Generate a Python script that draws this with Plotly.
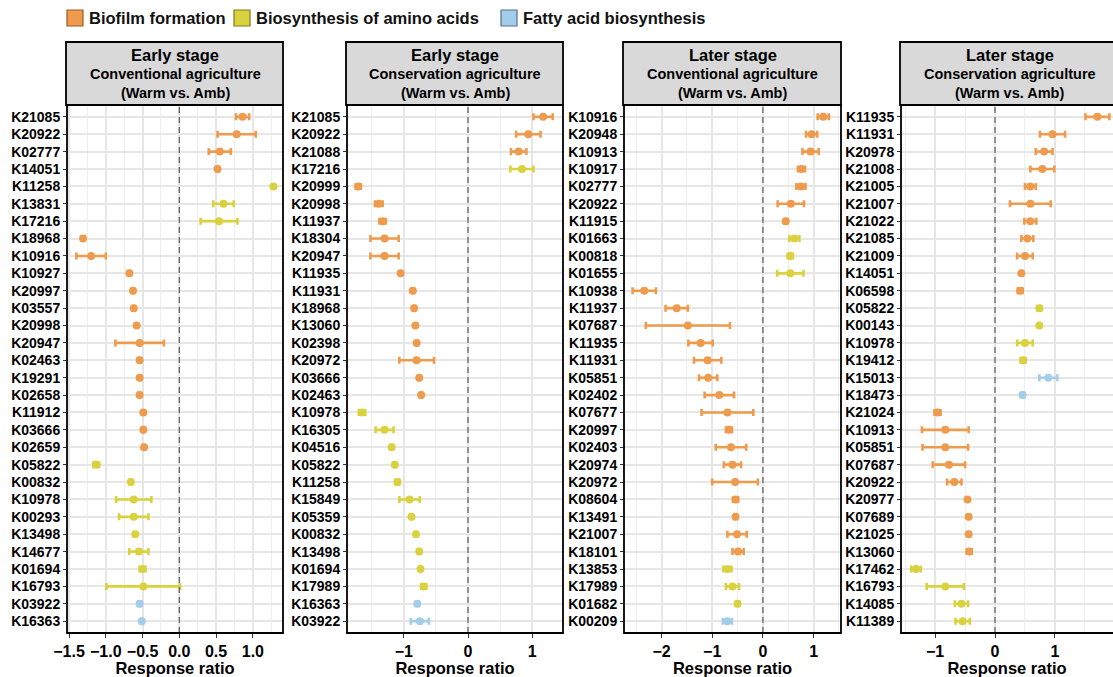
import plotly.graph_objects as go

# ---------------- data ----------------
# pathway codes: B = Biofilm formation, A = Biosynthesis of amino acids, F = Fatty acid biosynthesis
p1_genes = ["K21085", "K20922", "K02777", "K14051", "K11258", "K13831", "K17216", "K18968", "K10916", "K10927",
            "K20997", "K03557", "K20998", "K20947", "K02463", "K19291", "K02658", "K11912", "K03666", "K02659",
            "K05822", "K00832", "K10978", "K00293", "K13498", "K14677", "K01694", "K16793", "K03922", "K16363"]
p1_ratio = [0.86, 0.78, 0.55, 0.52, 1.28, 0.60, 0.54, -1.31, -1.20, -0.68,
            -0.63, -0.62, -0.58, -0.54, -0.54, -0.54, -0.54, -0.49, -0.49, -0.48,
            -1.13, -0.66, -0.62, -0.62, -0.60, -0.55, -0.50, -0.49, -0.54, -0.51]
p1_err = [0.09, 0.26, 0.15, 0.015, 0.02, 0.14, 0.25, 0.015, 0.20, 0.015,
          0.015, 0.015, 0.015, 0.33, 0.015, 0.015, 0.015, 0.015, 0.015, 0.015,
          0.04, 0.015, 0.24, 0.20, 0.015, 0.13, 0.04, 0.50, 0.015, 0.015]
p1_path = ["B", "B", "B", "B", "A", "A", "A", "B", "B", "B",
           "B", "B", "B", "B", "B", "B", "B", "B", "B", "B",
           "A", "A", "A", "A", "A", "A", "A", "A", "F", "F"]

p2_genes = ["K21085", "K20922", "K21088", "K17216", "K20999", "K20998", "K11937", "K18304", "K20947", "K11935",
            "K11931", "K18968", "K13060", "K02398", "K20972", "K03666", "K02463", "K10978", "K16305", "K04516",
            "K05822", "K11258", "K15849", "K05359", "K00832", "K13498", "K01694", "K17989", "K16363", "K03922"]
p2_ratio = [1.17, 0.94, 0.79, 0.84, -1.71, -1.39, -1.33, -1.30, -1.30, -1.05,
            -0.86, -0.84, -0.82, -0.80, -0.80, -0.76, -0.73, -1.65, -1.30, -1.19,
            -1.14, -1.10, -0.91, -0.88, -0.81, -0.76, -0.74, -0.69, -0.79, -0.75]
p2_err = [0.15, 0.19, 0.12, 0.18, 0.04, 0.06, 0.05, 0.22, 0.22, 0.015,
          0.015, 0.015, 0.015, 0.015, 0.27, 0.015, 0.015, 0.05, 0.14, 0.02,
          0.02, 0.03, 0.16, 0.015, 0.015, 0.015, 0.015, 0.04, 0.02, 0.14]
p2_path = ["B", "B", "B", "A", "B", "B", "B", "B", "B", "B",
           "B", "B", "B", "B", "B", "B", "B", "A", "A", "A",
           "A", "A", "A", "A", "A", "A", "A", "A", "F", "F"]

p3_genes = ["K10916", "K20948", "K10913", "K10917", "K02777", "K20922", "K11915", "K01663", "K00818", "K01655",
            "K10938", "K11937", "K07687", "K11935", "K11931", "K05851", "K02402", "K07677", "K20997", "K02403",
            "K20974", "K20972", "K08604", "K13491", "K21007", "K18101", "K13853", "K17989", "K01682", "K00209"]
p3_ratio = [1.19, 0.96, 0.94, 0.76, 0.75, 0.55, 0.45, 0.62, 0.54, 0.54,
            -2.34, -1.70, -1.48, -1.23, -1.09, -1.08, -0.86, -0.70, -0.67, -0.63,
            -0.60, -0.55, -0.54, -0.54, -0.51, -0.49, -0.70, -0.60, -0.50, -0.70]
p3_err = [0.11, 0.11, 0.16, 0.07, 0.09, 0.26, 0.03, 0.10, 0.05, 0.26,
          0.23, 0.22, 0.83, 0.24, 0.27, 0.18, 0.29, 0.51, 0.06, 0.30,
          0.17, 0.45, 0.05, 0.02, 0.19, 0.11, 0.08, 0.13, 0.03, 0.09]
p3_path = ["B", "B", "B", "B", "B", "B", "B", "A", "A", "A",
           "B", "B", "B", "B", "B", "B", "B", "B", "B", "B",
           "B", "B", "B", "B", "B", "B", "A", "A", "A", "F"]

p4_genes = ["K11935", "K11931", "K20978", "K21008", "K21005", "K21007", "K21022", "K21085", "K21009", "K14051",
            "K06598", "K05822", "K00143", "K10978", "K19412", "K15013", "K18473", "K21024", "K10913", "K05851",
            "K07687", "K20922", "K20977", "K07689", "K21025", "K13060", "K17462", "K16793", "K14085", "K11389"]
p4_ratio = [1.71, 0.96, 0.82, 0.79, 0.59, 0.59, 0.59, 0.54, 0.50, 0.44,
            0.42, 0.74, 0.74, 0.50, 0.47, 0.89, 0.46, -0.96, -0.83, -0.83,
            -0.77, -0.68, -0.46, -0.44, -0.44, -0.43, -1.32, -0.83, -0.56, -0.54]
p4_err = [0.20, 0.21, 0.14, 0.20, 0.09, 0.34, 0.10, 0.10, 0.13, 0.015,
          0.04, 0.03, 0.015, 0.13, 0.04, 0.15, 0.03, 0.05, 0.39, 0.38,
          0.27, 0.12, 0.015, 0.015, 0.015, 0.04, 0.08, 0.31, 0.11, 0.12]
p4_path = ["B", "B", "B", "B", "B", "B", "B", "B", "B", "B",
           "B", "A", "A", "A", "A", "F", "F", "B", "B", "B",
           "B", "B", "B", "B", "B", "B", "A", "A", "A", "A"]

panel_titles = [("Early stage", "Conventional agriculture", "(Warm vs. Amb)"),
                ("Early stage", "Conservation agriculture", "(Warm vs. Amb)"),
                ("Later stage", "Conventional agriculture", "(Warm vs. Amb)"),
                ("Later stage", "Conservation agriculture", "(Warm vs. Amb)")]
pathway_order = ["B", "A", "F"]
pathway_names = {"B": "Biofilm formation", "A": "Biosynthesis of amino acids", "F": "Fatty acid biosynthesis"}
pathway_colors = {"B": "#EE9B4E", "A": "#D9D23E", "F": "#A3CDE9"}
pathway_edges = {"B": "#9C5A22", "A": "#7E7A1E", "F": "#56718A"}

panels = [(p1_genes, p1_ratio, p1_err, p1_path),
          (p2_genes, p2_ratio, p2_err, p2_path),
          (p3_genes, p3_ratio, p3_err, p3_path),
          (p4_genes, p4_ratio, p4_err, p4_path)]

# ---------------- layout geometry (pixels) ----------------
W, H = 1113, 677
x_px = [(67, 283), (347, 563), (624, 841), (901, 1113)]
x_ranges = [(-1.528, 1.41), (-1.885, 1.48), (-2.74, 1.54), (-1.57, 1.97)]
x_dtick = [0.5, 1, 1, 1]
x_fmt = [".1f", "d", "d", "d"]
plot_top, plot_bot = 105, 633
head_top = 42
legend_square_x = [67, 234, 501]
legend_y = 18

def px(x):
    return x / W

def py(y):
    return 1 - y / H

fig = go.Figure()
FONT = "Liberation Sans, Arial, sans-serif"

for i, (genes, ratio, err, path) in enumerate(panels):
    n = i + 1
    xa = "x" if n == 1 else f"x{n}"
    ya = "y" if n == 1 else f"y{n}"
    for code in pathway_order:
        idx = [k for k, p in enumerate(path) if p == code]
        if not idx:
            continue
        fig.add_trace(go.Scatter(
            x=[ratio[k] for k in idx], y=[genes[k] for k in idx],
            mode="markers", xaxis=xa, yaxis=ya, showlegend=False,
            name=pathway_names[code],
            marker=dict(symbol="circle", size=8, color=pathway_colors[code], line=dict(width=0)),
            error_x=dict(type="data", array=[err[k] for k in idx], visible=True,
                         color=pathway_colors[code], thickness=2.6, width=3.5),
            hoverinfo="x+y",
        ))
    x0, x1 = x_px[i]
    axis_key = "xaxis" if n == 1 else f"xaxis{n}"
    yaxis_key = "yaxis" if n == 1 else f"yaxis{n}"
    fig.update_layout(**{
        axis_key: dict(
            domain=[px(x0), px(x1)], range=list(x_ranges[i]), anchor=ya,
            dtick=x_dtick[i], tick0=0, tickformat=x_fmt[i],
            showgrid=True, gridcolor="#E6E6E6", gridwidth=1.5, zeroline=False,
            minor=dict(dtick=x_dtick[i] / 2, tick0=0, showgrid=True, gridcolor="#EEEEEE", gridwidth=1),
            ticks="outside", ticklen=4, tickcolor="#333333", tickwidth=1.2,
            tickfont=dict(family=FONT, size=16, color="black", weight="bold"),
            title=dict(text="Response ratio", standoff=2,
                       font=dict(family=FONT, size=16.5, color="black", weight="bold")),
            showline=False, automargin=False, fixedrange=True,
        ),
        yaxis_key: dict(
            domain=[py(plot_bot), py(plot_top)], anchor=xa,
            type="category", categoryorder="array", categoryarray=genes,
            range=[len(genes) - 1 + 0.68, -0.68],
            showgrid=True, gridcolor="#E6E6E6", gridwidth=1.5, zeroline=False,
            ticks="outside", ticklen=3, tickcolor="#333333", tickwidth=1.2,
            tickfont=dict(family=FONT, size=14, color="black", weight="bold"),
            showline=False, automargin=False, fixedrange=True,
        ),
    })
    # zero reference line
    fig.add_shape(type="line", xref=xa, yref=f"{ya} domain", x0=0, x1=0, y0=0, y1=1,
                  line=dict(color="#666666", width=1.3, dash="6px,4px"), layer="above")
    # panel border
    right = x1 if n < 4 else x1 + 5
    fig.add_shape(type="rect", xref="paper", yref="paper",
                  x0=px(x0), x1=px(right), y0=py(plot_bot), y1=py(plot_top),
                  line=dict(color="black", width=1.8), fillcolor="rgba(0,0,0,0)", layer="above")
    # header strip
    fig.add_shape(type="rect", xref="paper", yref="paper",
                  x0=px(x0 - 1), x1=px(right), y0=py(plot_top), y1=py(head_top),
                  line=dict(color="black", width=1.8), fillcolor="#D9D9D9", layer="above")
    cx = (x0 + x1) / 2 if n < 4 else (x0 + 1113 + 5) / 2
    t1, t2, t3 = panel_titles[i]
    for txt, yy, sz in [(t1, 55, 16.5), (t2, 74, 14.5), (t3, 93, 14.5)]:
        fig.add_annotation(text=txt, xref="paper", yref="paper", x=px(cx), y=py(yy),
                           showarrow=False, xanchor="center", yanchor="middle",
                           font=dict(family=FONT, size=sz, color="black", weight="bold"))

# legend (keys + labels)
for code, sx in zip(pathway_order, legend_square_x):
    fig.add_shape(type="rect", xref="paper", yref="paper",
                  x0=px(sx), x1=px(sx + 16), y0=py(legend_y + 8), y1=py(legend_y - 8),
                  line=dict(color=pathway_edges[code], width=1.2), fillcolor=pathway_colors[code])
    fig.add_annotation(text=pathway_names[code], xref="paper", yref="paper",
                       x=px(sx + 20), y=py(legend_y), showarrow=False,
                       xanchor="left", yanchor="middle",
                       font=dict(family=FONT, size=16.5, color="#111111", weight="bold"))

fig.update_layout(
    width=W, height=H, margin=dict(l=0, r=0, t=0, b=0),
    paper_bgcolor="white", plot_bgcolor="white",
    font=dict(family=FONT, color="black"),
    showlegend=False,
)

fig.write_html("out.html")
